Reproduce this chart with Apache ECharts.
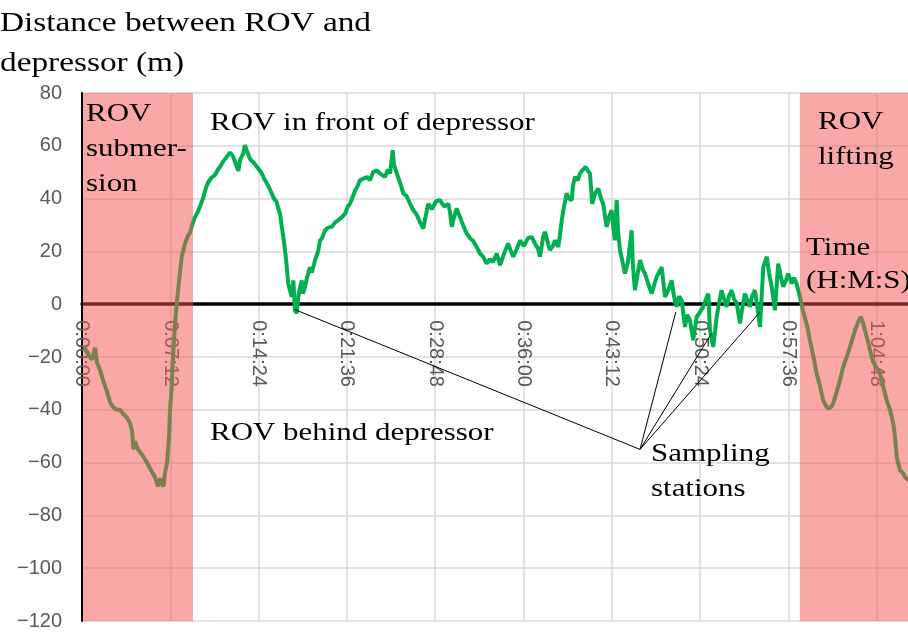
<!DOCTYPE html>
<html lang="en">
<head>
    <meta charset="UTF-8">
    <title>Distance between ROV and depressor</title>
    <style>
        html, body { margin: 0; padding: 0; background: #fff; }
    </style>
</head>
<body>
    <div id="chart" style="width: 908px;height:643px;"></div>
    <script src="https://cdn.jsdelivr.net/npm/echarts/dist/echarts.min.js"></script>
    <script type="text/javascript">
       // time in seconds, distance in metres
       var distanceTrace = [
           [10,-16],[29,-19],[49,-21],[64,-16.5],[73,-22],[88,-25],[108,-30],[122,-33],[137,-37],[152,-39],
           [171,-40],[186,-40],[201,-41.5],[220,-43],[235,-45],[245,-48],[252,-55],[259,-52],[274,-55],[294,-57],
           [318,-60],[338,-63],[357,-65.5],[372,-69],[382,-66],[391,-68],[399,-69],[406,-64],[416,-60],[426,-50],
           [430,-41],[438,-32],[444,-22.5],[450,-14],[455,-7.3],[463,0],[475,9],[488,18],[504,23],[519,26],
           [528,27],[543,31],[553,33],[567,35],[577,37],[592,40],[602,43],[616,46],[634,48],[651,49],
           [665,51],[675,52],[690,54],[708,55.8],[724,57.5],[739,56],[753,53],[765,50.5],[773,54.5],[788,57],
           [797,60.2],[807,58],[822,55],[841,53.5],[861,51.5],[876,50],[895,47],[910,45],[928,42],[939,40],
           [952,38.8],[961,36],[969,34.3],[978,29],[985,25.5],[997,18],[1003,13],[1009,7.8],[1018,5],[1026,2.8],
           [1034,9],[1042,-2.3],[1050,-3.5],[1058,2.8],[1066,6],[1075,9],[1081,4],[1091,6.6],[1101,10],[1115,14],
           [1125,12],[1140,16.7],[1155,20],[1164,24],[1174,25],[1189,28],[1203,29],[1222,29.3],[1238,31],[1254,31.8],
           [1272,33],[1287,34.3],[1301,37],[1311,38],[1326,41],[1336,43],[1350,45],[1360,47],[1375,47.5],[1393,48.2],
           [1409,47],[1424,50],[1442,50.7],[1458,49.5],[1482,48.2],[1497,51],[1507,49.5],[1520,58.3],[1526,53],[1540,49.5],
           [1556,46],[1572,42],[1588,41],[1605,38],[1621,35.6],[1637,34],[1654,31],[1670,28.7],[1678,32],[1694,38],
           [1712,36],[1732,39],[1751,39.4],[1771,37],[1792,38],[1800,35],[1809,29.3],[1820,33],[1833,36.3],[1849,33],
           [1864,30],[1882,26.8],[1898,25],[1913,24],[1931,21.7],[1947,19.2],[1962,18],[1980,15.4],[1996,17],[2011,16],
           [2029,19.2],[2045,14.8],[2060,18],[2069,20],[2085,23],[2099,20],[2110,18],[2128,21],[2143,24.2],[2162,22],
           [2182,25],[2200,25.5],[2216,23],[2231,21],[2241,18],[2255,25],[2265,27.4],[2280,23],[2289,20.5],[2304,22],
           [2314,24.2],[2330,21.7],[2338,26],[2347,31.8],[2358,37],[2371,42],[2382,40],[2396,39.4],[2402,45],[2412,48.2],
           [2426,47],[2436,49.5],[2451,51],[2464,52],[2475,50.5],[2485,49.5],[2496,38],[2510,42],[2526,43.8],[2539,40],
           [2550,38],[2559,33],[2567,29.3],[2578,33],[2591,35.6],[2598,30],[2607,24.2],[2616,39.4],[2622,28],[2632,20.5],
           [2642,17],[2656,11.6],[2671,16],[2689,28],[2695,15],[2705,5.3],[2715,10],[2730,16.7],[2744,13],[2754,11.6],
           [2769,8],[2787,4],[2798,7],[2811,10.3],[2823,12],[2836,14],[2844,14],[2852,2.8],[2868,5.3],[2885,9],
           [2896,3],[2909,-1],[2921,3],[2934,1.5],[2950,-8.6],[2960,-4],[2974,-6],[2990,-13.6],[3007,-4.8],[3023,-3],
           [3039,-1],[3053,2],[3064,4],[3072,-9.8],[3088,-16.2],[3105,-4.8],[3116,0],[3129,5.3],[3141,2],[3154,-1],
           [3165,3],[3178,5.3],[3190,2],[3203,0.3],[3219,-7.3],[3229,-2],[3243,4],[3258,1],[3268,-1],[3278,3],
           [3292,5.3],[3302,0],[3317,-8.6],[3333,14],[3350,18],[3361,12],[3374,6.6],[3390,-2.3],[3406,15.4],[3420,10],
           [3431,6.6],[3444,9],[3455,11.6],[3472,7.8],[3483,10],[3496,7.8],[3512,2.8],[3529,-3],[3547,-8],[3561,-13.6],
           [3576,-19],[3594,-26.2],[3610,-31],[3626,-36.4],[3640,-38.5],[3651,-39.5],[3664,-39],[3675,-37.6],[3693,-33],[3708,-28.8],
           [3723,-24],[3741,-20],[3762,-15],[3782,-9.8],[3796,-7],[3809,-4.8],[3821,-7],[3830,-9.8],[3845,-14],[3863,-20],
           [3879,-23],[3904,-26.2],[3919,-31],[3937,-36.4],[3953,-40],[3969,-45.2],[3977,-50],[3986,-57.8],[3992,-60],[4002,-62.9],
           [4016,-64],[4026,-65.4],[4041,-66.7]
       ];
       // shaded phases: submersion and lifting (seconds)
       var shadedSpans = [[0, 543], [3512, 4041]];
       // sampling stations and where their label lines meet
       var samplingStations = [[1040, -2], [2905, -3], [3080, -11], [3317, -3]];
       var stationLabelPoint = [2730, -55];

       var timeMin = 0, timeMax = 4041, timeStep = 432;   // 0:07:12 per tick
       var yMin = -120, yMax = 80, yStep = 20;

       var gridTop = 93, gridBottom = 22, gridHeight = 643 - gridTop - gridBottom;
       // move the time axis up to the zero line (labels follow it)
       var zeroOffset = -gridHeight * (0 - yMin) / (yMax - yMin);

       function pad(n) { return n < 10 ? '0' + n : '' + n; }
       function hms(s) {
           var h = Math.floor(s / 3600), m = Math.floor((s % 3600) / 60), sec = Math.round(s % 60);
           return h + ':' + pad(m) + ':' + pad(sec);
       }

       var serif = '"Liberation Serif", "Times New Roman", serif';
       var stretch = 1.19;
       function note(x, y, text, size, lh) {
           return {
               type: 'text', x: x, y: y, scaleX: stretch, z: 100,
               style: { text: text, fontSize: size, fontFamily: serif, lineHeight: lh, fill: '#000', verticalAlign: 'top' }
           };
       }

       var myChart = echarts.init(document.getElementById('chart'));
       var option = {
           animation: false,
           grid: { left: 82, top: gridTop, right: 0, bottom: gridBottom, containLabel: false, outerBoundsMode: 'none' },
           xAxis: {
               type: 'value',
               min: timeMin, max: timeMax, interval: timeStep,
               offset: zeroOffset,
               axisLine: { onZero: false, lineStyle: { color: '#000', width: 3.5 } },
               axisTick: { show: false },
               axisLabel: {
                   rotate: -90, margin: 16, color: '#595959', fontSize: 20,
                   fontFamily: '"Liberation Sans", Arial, sans-serif',
                   showMaxLabel: false,
                   formatter: hms
               },
               splitLine: { show: true, showMaxLine: false, lineStyle: { color: '#d9d9d9', width: 1.5 } }
           },
           yAxis: {
               type: 'value',
               min: yMin, max: yMax, interval: yStep,
               axisLine: { show: true, onZero: false, lineStyle: { color: '#000', width: 2 } },
               axisTick: { show: false },
               axisLabel: {
                   margin: 20, color: '#595959', fontSize: 20,
                   fontFamily: '"Liberation Sans", Arial, sans-serif',
                   formatter: function (v) { return String(v).replace('-', '\u2212'); }
               },
               splitLine: { show: true, lineStyle: { color: '#d9d9d9', width: 1.5 } }
           },
           series: [
               {
                   name: 'distance',
                   type: 'line',
                   data: distanceTrace,
                   showSymbol: false,
                   symbol: 'none',
                   z: 2,
                   lineStyle: { color: '#00b050', width: 4 },
                   markLine: {
                       silent: true,
                       symbol: ['none', 'none'],
                       label: { show: false },
                       lineStyle: { color: '#000', width: 1, type: 'solid' },
                       data: samplingStations.map(function (p) {
                           return [{ coord: stationLabelPoint }, { coord: p }];
                       })
                   }
               },
               {
                   name: 'phases',
                   type: 'custom',
                   z: 5,
                   clip: true,
                   silent: true,
                   encode: { x: [0, 1] },
                   data: shadedSpans,
                   renderItem: function (params, api) {
                       var a = api.coord([api.value(0), yMax]);
                       var b = api.coord([api.value(1), yMin]);
                       // leave the black value axis line visible on the left
                       var x0 = params.dataIndex === 0 ? a[0] + 1 : a[0];
                       return {
                           type: 'rect',
                           shape: { x: x0, y: a[1], width: b[0] - x0, height: b[1] - a[1] },
                           style: { fill: 'rgba(245, 80, 80, 0.5)' }
                       };
                   }
               }
           ],
           graphic: [
               note(0, 4, 'Distance between ROV and\ndepressor (m)', 28, 40),
               note(86, 97, 'ROV\nsubmer-\nsion', 26, 35),
               note(210, 106, 'ROV in front of depressor', 26, 35),
               note(210, 416, 'ROV behind depressor', 26, 35),
               note(651, 437, 'Sampling\nstations', 26, 35),
               note(806, 232, 'Time\n(H:M:S)', 26, 33),
               note(818, 105, 'ROV\nlifting', 26, 35)
           ]
       };
       myChart.setOption(option);
    </script>
</body>
</html>
